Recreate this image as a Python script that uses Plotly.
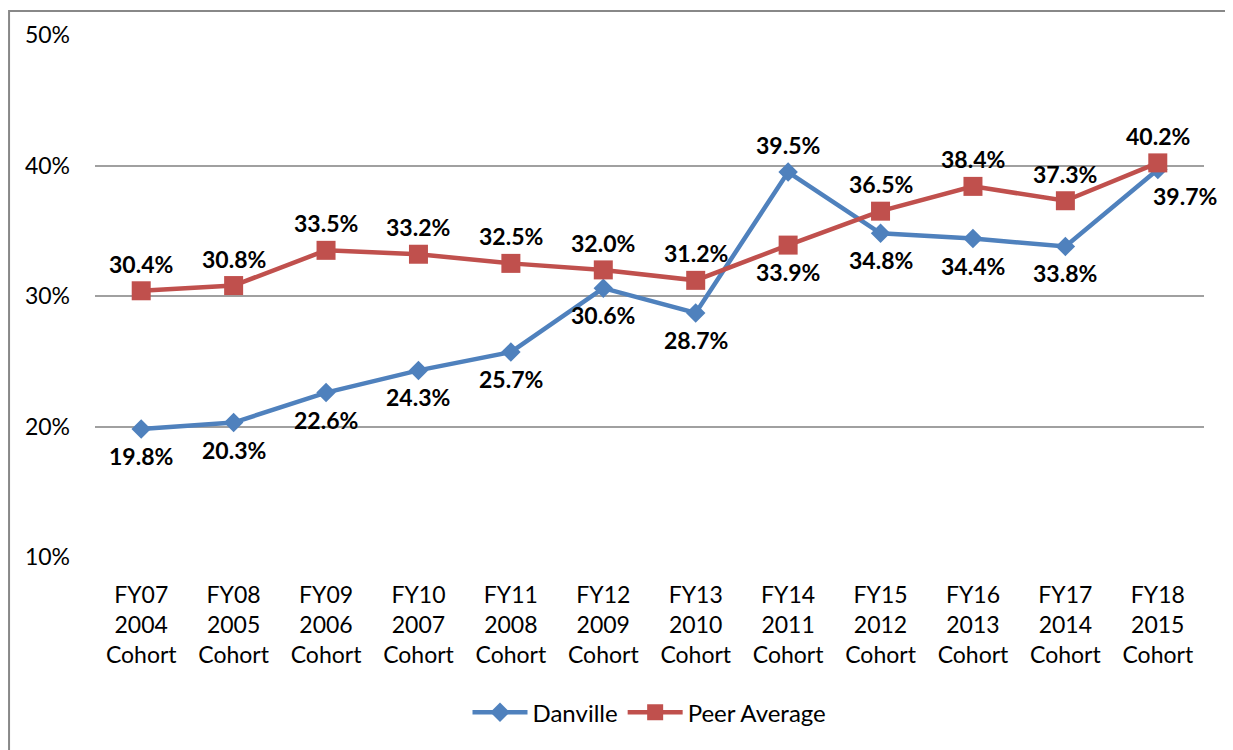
import plotly.graph_objects as go

categories = ["FY07<br>2004<br>Cohort", "FY08<br>2005<br>Cohort", "FY09<br>2006<br>Cohort",
              "FY10<br>2007<br>Cohort", "FY11<br>2008<br>Cohort", "FY12<br>2009<br>Cohort",
              "FY13<br>2010<br>Cohort", "FY14<br>2011<br>Cohort", "FY15<br>2012<br>Cohort",
              "FY16<br>2013<br>Cohort", "FY17<br>2014<br>Cohort", "FY18<br>2015<br>Cohort"]
danville = [0.198, 0.203, 0.226, 0.243, 0.257, 0.306, 0.287, 0.395, 0.348, 0.344, 0.338, 0.397]
peer = [0.304, 0.308, 0.335, 0.332, 0.325, 0.320, 0.312, 0.339, 0.365, 0.384, 0.373, 0.402]

# label side per point: -1 below, +1 above
danville_side = [-1, -1, -1, -1, -1, -1, -1, 1, -1, -1, -1, -1]
peer_side = [1, 1, 1, 1, 1, 1, 1, -1, 1, 1, 1, 1]

blue = "#4F81BD"
red = "#C0504D"
font = "Lato, Calibri, sans-serif"

fig = go.Figure()
fig.add_trace(go.Scatter(
    x=list(range(len(categories))), y=danville, name="Danville", mode="lines+markers",
    line=dict(color=blue, width=4.5),
    marker=dict(symbol="diamond", size=15, color=blue),
))
fig.add_trace(go.Scatter(
    x=list(range(len(categories))), y=peer, name="Peer Average", mode="lines+markers",
    line=dict(color=red, width=4.5),
    marker=dict(symbol="square", size=19, color=red),
))

annotations = []
for vals, sides in [(danville, danville_side), (peer, peer_side)]:
    for i, (v, s) in enumerate(zip(vals, sides)):
        xshift = 0
        if vals is danville and i == len(vals) - 1:
            xshift = 27
        annotations.append(dict(
            x=i, y=v, text=f"{v * 100:.1f}%", showarrow=False,
            yshift=27 * s, xshift=xshift,
            font=dict(family=font, size=23, color="#000000", weight="bold"),
        ))

fig.update_layout(
    width=1233, height=750,
    margin=dict(l=87, r=37, t=25, b=201),
    paper_bgcolor="white", plot_bgcolor="white",
    font=dict(family=font, size=23, color="#000000"),
    annotations=annotations,
    showlegend=True,
    legend=dict(orientation="h", x=0.5, xanchor="center", y=-0.298, yanchor="middle",
                font=dict(family=font, size=24), itemwidth=55),
    shapes=[dict(type="rect", xref="paper", yref="paper",
                 x0=-0.0775, x1=1.04, y0=-0.403, y1=1.0458,
                 line=dict(color="#888888", width=2), layer="below")],
)
fig.update_xaxes(
    tickmode="array", tickvals=list(range(len(categories))), ticktext=categories,
    range=[-0.5, len(categories) - 0.5], showgrid=False, zeroline=False,
    showline=False, ticks="", ticklabelstandoff=22,
    tickfont=dict(family=font, size=23),
)
fig.update_yaxes(
    range=[0.10, 0.50], dtick=0.10, tickformat=".0%",
    showgrid=True, gridcolor="#A0A0A0", gridwidth=1.5, zeroline=False,
    showline=False, ticks="", ticklabelstandoff=24,
    tickfont=dict(family=font, size=23),
)

fig.write_html("out.html")
